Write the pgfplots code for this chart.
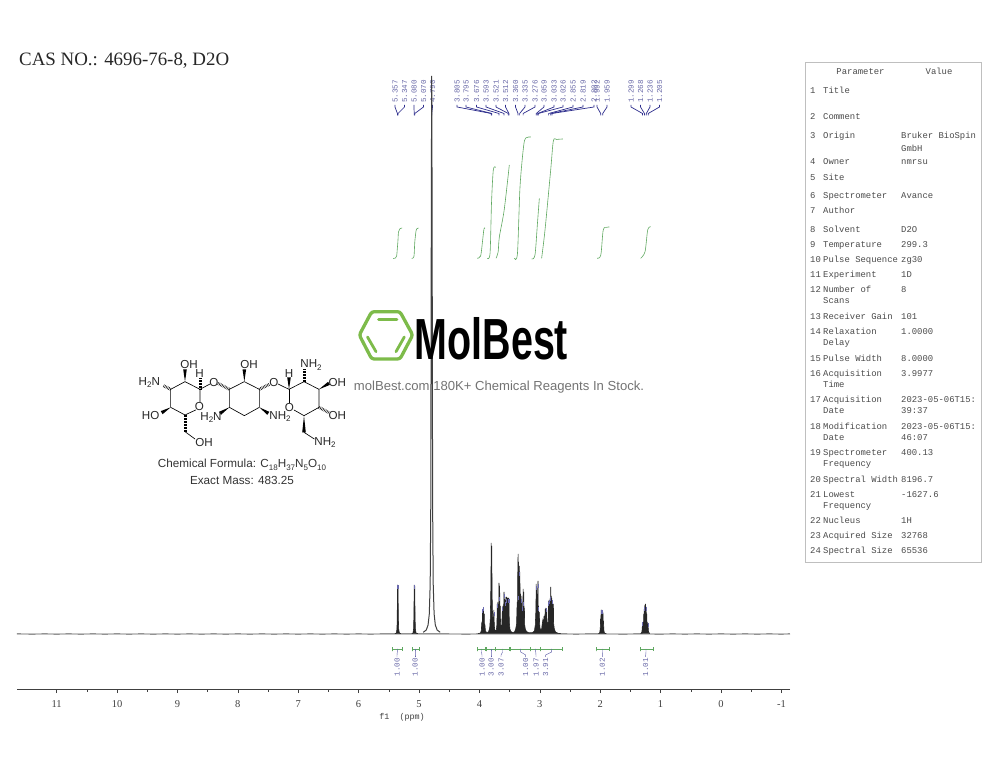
\documentclass[border=0pt]{standalone}
\usepackage{pgfplots}
\usepackage{fontspec}
\pgfplotsset{compat=1.18}
\usetikzlibrary{calc}
\setmainfont{Liberation Serif}
\newfontfamily\monof{Liberation Mono}
\newfontfamily\sansf{Liberation Sans}
\definecolor{lbl}{HTML}{6A6AA8}
\definecolor{lead}{HTML}{2C2C8C}
\definecolor{intg}{HTML}{5FA860}
\definecolor{txt}{HTML}{4A4A4A}
\definecolor{logog}{HTML}{7DBB4A}
\newcommand\tr[4]{%
  \node[anchor=base west,inner sep=0,text=txt,font=\monof\fontsize{8.9}{9}\selectfont] at (810,{770-#1}) {#2};
  \node[anchor=base west,inner sep=0,text=txt,font=\monof\fontsize{8.9}{9}\selectfont] at (823,{770-#1}) {#3};
  \node[anchor=base west,inner sep=0,text=txt,font=\monof\fontsize{8.9}{9}\selectfont] at (901,{770-#1}) {#4};}
\newcommand\sub[1]{\raisebox{-2.5pt}{\fontsize{8}{8}\selectfont #1}}
\newcommand\wdg[2]{\fill[black] (#1) -- ($(#2)!1.8pt!90:(#1)$) -- ($(#2)!1.8pt!-90:(#1)$) -- cycle;}
\newcommand\hsh[2]{\draw[line width=3pt,line cap=butt,dash pattern=on 0.5pt off 1pt] (#1)--(#2);}
\begin{document}
\begin{tikzpicture}[x=1pt,y=1pt]
\path[use as bounding box] (0,0) rectangle (1000,773);
% title
\node[anchor=west,inner sep=0,font=\fontsize{18.9}{20}\selectfont,text=black!85] at (19,712.5) {CAS NO.: 4696-76-8, D2O};
% peak labels and leaders
\foreach \a/\b/\t in {395/397.4/5.357,404.5/398/5.347,414/414.2/5.080,423.5/414.8/5.070,432.5/431.7/4.790,
 457/491.2/3.805,466/491.8/3.795,476.5/499/3.676,486/504/3.593,496/508.3/3.521,505.5/508.9/3.512,
 515.5/518/3.360,525/519.6/3.335,535/523.1/3.276,544/536.2/3.059,554/537.8/3.033,563/538.2/3.026,
 573/548.6/2.855,583/550.7/2.819,594/551.9/2.802,597/600.7/1.992,607/602.7/1.959,
 631/642.5/1.299,640.5/644.4/1.268,650/646.3/1.236,659.5/648.2/1.205}{
  \node[rotate=90,anchor=west,inner sep=0,text=lbl,font=\monof\fontsize{7.6}{8}\selectfont] at (\a,670) {\t};
  \draw[lead,line width=0.7pt] (\a,668)--(\a,666)--(\b,659.5)--(\b,657.5);
}
\begin{axis}[at={(17pt,84pt)},anchor=south west,scale only axis,width=773pt,height=613pt,
  x dir=reverse,xmin=-1.142,xmax=11.656,ymin=-55,ymax=558,clip=false,
  axis y line=none,axis x line*=bottom,axis line style={-,black!75,line width=0.7pt},
  xtick={-1,0,1,2,3,4,5,6,7,8,9,10,11},
  xticklabels={-1,0,1,2,3,4,5,6,7,8,9,10,11},
  minor x tick num=1,tick align=outside,major tick length=4pt,minor tick length=2.5pt,
  x tick style={black!75,line width=0.6pt},
  xticklabel style={font=\fontsize{10.5}{11}\selectfont,text=black!75,inner sep=0pt,yshift=-7pt},
  xlabel={f1\ \ (ppm)},xlabel style={font=\monof\fontsize{8.4}{9}\selectfont,text=black!75,at={(axis cs:5.28,-55)},anchor=north,yshift=-21pt}]
% baseline
\addplot[black!65,line width=0.9pt] coordinates {(11.656,0.1)(11.4,-0.1)(11.2,0.1)(11,-0.1)(10.8,0.1)(10.6,-0.1)(10.4,0.1)(10.2,-0.1)(10,0.1)(9.8,-0.1)(9.6,0.1)(9.4,-0.1)(9.2,0.1)(9,-0.1)(8.8,0.1)(8.6,-0.1)(8.4,0.1)(8.2,-0.1)(8,0.1)(7.8,-0.1)(7.6,0.1)(7.4,-0.1)(7.2,0.1)(7,-0.1)(6.8,0.1)(6.6,-0.1)(6.4,0.1)(6.2,-0.1)(6,0.1)(5.8,-0.1)(5.6,0.1)(5.4,0.1)(5,0.1)(4.6,0.1)(4.2,-0.1)(4,0.1)(2.6,0.1)(2.4,-0.1)(2.2,0.1)(2,0.1)(1.8,0)(1.6,-0.1)(1.4,0.1)(1.2,0)(1,-0.1)(0.8,0.1)(0.6,-0.1)(0.4,0.1)(0.2,-0.1)(0,0.1)(-0.2,-0.1)(-0.4,0.1)(-0.6,-0.1)(-0.8,0.1)(-1,-0.1)(-1.142,0.1)};
% spectrum
\addplot[draw=black!85,fill=black!85,line width=0.6pt] coordinates {(5.40,.3)(5.375,1)(5.365,5)(5.36,20)(5.357,49)(5.352,30)(5.347,48)(5.343,18)(5.337,5)(5.325,1)(5.30,.3)};
\addplot[draw=black!85,fill=black!85,line width=0.6pt] coordinates {(5.12,.3)(5.10,1)(5.09,5)(5.084,20)(5.080,49)(5.075,30)(5.070,48)(5.066,18)(5.06,5)(5.05,1)(5.02,.3)};
\addplot[draw=black!75,line width=1pt] coordinates {(4.93,1.7)(4.88,4)(4.85,9)(4.83,20)(4.815,50)(4.805,131)(4.80,308)(4.795,465)(4.79,558)(4.785,465)(4.78,308)(4.775,131)(4.765,50)(4.75,20)(4.73,9)(4.70,4)(4.65,1.7)};
\addplot[draw=black!85,fill=black!85,line width=0.55pt] coordinates {(4.02,.3)(3.985,1)(3.97,3)(3.96,12)(3.955,5)(3.95,22)(3.945,8)(3.94,25)(3.935,9)(3.93,25)(3.925,8)(3.92,20)(3.915,6)(3.91,10)(3.90,3)(3.88,1.5)(3.85,2)(3.83,6)(3.82,15)(3.81,50)(3.805,91)(3.80,55)(3.795,88)(3.79,40)(3.78,12)(3.775,17)(3.77,10)(3.76,24)(3.755,12)(3.75,6)(3.74,3)(3.72,4)(3.71,10)(3.705,30)(3.70,12)(3.695,32)(3.69,15)(3.685,30)(3.68,18)(3.676,51)(3.67,20)(3.665,48)(3.66,20)(3.655,28)(3.65,10)(3.64,7)(3.63,9)(3.62,24)(3.615,10)(3.61,28)(3.605,12)(3.60,30)(3.595,18)(3.593,42)(3.588,15)(3.583,35)(3.578,14)(3.57,34)(3.565,14)(3.56,37)(3.553,15)(3.548,37)(3.543,14)(3.535,36)(3.53,16)(3.521,36)(3.516,16)(3.512,36)(3.505,12)(3.495,5)(3.48,2.5)(3.45,1.5)(3.42,2)(3.40,5)(3.385,10)(3.375,32)(3.37,18)(3.365,62)(3.36,80)(3.355,30)(3.35,72)(3.345,28)(3.34,68)(3.335,30)(3.33,62)(3.325,22)(3.32,40)(3.315,18)(3.31,38)(3.305,16)(3.30,34)(3.295,14)(3.29,25)(3.285,14)(3.28,32)(3.276,45)(3.27,16)(3.265,42)(3.26,16)(3.255,26)(3.25,9)(3.24,5)(3.22,2.5)(3.18,1.2)(3.12,1.5)(3.09,3)(3.075,9)(3.065,24)(3.06,50)(3.055,22)(3.05,46)(3.045,20)(3.04,40)(3.035,20)(3.03,53)(3.025,18)(3.02,28)(3.015,12)(3.01,22)(3.0,7)(2.985,3.5)(2.97,5)(2.96,10)(2.95,14)(2.94,10)(2.93,18)(2.92,12)(2.91,25)(2.905,15)(2.90,26)(2.89,16)(2.885,24)(2.88,12)(2.87,10)(2.86,12)(2.855,33)(2.85,14)(2.845,34)(2.84,14)(2.83,36)(2.825,16)(2.819,47)(2.814,16)(2.81,38)(2.805,16)(2.80,36)(2.795,14)(2.79,33)(2.785,12)(2.775,30)(2.77,10)(2.76,5)(2.74,2)(2.70,.8)(2.65,.3)};
\addplot[draw=black!85,fill=black!85,line width=0.55pt] coordinates {(2.03,.3)(2.01,1)(2.0,5)(1.995,15)(1.99,10)(1.985,24)(1.98,12)(1.975,24)(1.97,14)(1.965,23)(1.96,12)(1.955,22)(1.95,10)(1.945,13)(1.94,4)(1.93,1)(1.90,.3)};
\addplot[draw=black!85,fill=black!85,line width=0.55pt] coordinates {(1.33,.3)(1.31,2)(1.30,10)(1.295,5)(1.29,12)(1.285,7)(1.28,20)(1.275,10)(1.27,27)(1.265,14)(1.26,29)(1.255,14)(1.25,30)(1.245,14)(1.24,27)(1.235,12)(1.23,20)(1.225,8)(1.22,12)(1.215,6)(1.21,10)(1.20,2)(1.18,.4)};
% peak pick marks
\addplot[only marks,mark=|,mark size=2pt,color=lead!70,mark options={line width=0.6pt}] coordinates {(5.357,47)(5.347,47)(5.080,47)(5.070,47)(3.95,23)(3.93,25)(3.76,20)(3.70,28)(3.676,35)(3.62,25)(3.593,38)(3.57,30)(3.548,33)(3.521,33)(3.512,33)(3.36,36)(3.335,60)(3.31,33)(3.29,25)(3.276,30)(3.059,46)(3.033,48)(3.026,25)(2.90,24)(2.855,30)(2.845,32)(2.819,35)(2.80,32)(1.985,22)(1.96,22)(1.299,10)(1.268,25)(1.236,25)(1.205,9)};
% integrals
\addplot[intg,line width=0.6pt,smooth] coordinates {(5.43,375.5)(5.39,376)(5.37,378)(5.36,385)(5.35,392)(5.34,402)(5.32,405)(5.28,406)};
\addplot[intg,line width=0.6pt,smooth] coordinates {(5.12,375.5)(5.09,376.5)(5.08,380)(5.07,392)(5.05,403)(5.04,405)(5.01,406)};
\addplot[intg,line width=0.6pt,smooth] coordinates {(4.035,375.7)(3.98,378)(3.95,392)(3.925,405)(3.907,405.7)};
\addplot[intg,line width=0.6pt,smooth] coordinates {(3.87,375.7)(3.824,380.7)(3.80,430.7)(3.77,464)(3.73,466.7)};
\addplot[intg,line width=0.6pt,smooth] coordinates {(3.725,375.7)(3.69,382)(3.67,397)(3.59,424)(3.505,469)};
\addplot[intg,line width=0.6pt,smooth] coordinates {(3.42,375.7)(3.37,380.7)(3.328,447)(3.27,487)(3.233,496)(3.15,497)};
\addplot[intg,line width=0.6pt,smooth] coordinates {(3.134,375)(3.08,379)(3.04,410)(3.008,435.7)};
\addplot[intg,line width=0.6pt,smooth] coordinates {(2.97,375.7)(2.914,404)(2.82,464)(2.776,493)(2.72,494.5)(2.62,495)};
\addplot[intg,line width=0.6pt,smooth] coordinates {(2.05,375.7)(1.99,379)(1.95,404)(1.89,406.7)(1.85,407)};
\addplot[intg,line width=0.6pt,smooth] coordinates {(1.33,375.7)(1.258,382.3)(1.214,404)(1.164,407.3)};
% integral bars
\addplot[intg,line width=0.7pt] coordinates {(5.44,-13)(5.44,-17)(5.44,-15)(5.28,-15)(5.28,-13)(5.28,-17)};
\addplot[intg,line width=0.7pt] coordinates {(5.116,-13)(5.116,-17)(5.116,-15)(4.995,-15)(4.995,-13)(4.995,-17)};
\addplot[intg,line width=0.7pt] coordinates {(4.03,-13)(4.03,-17)(4.03,-15)(3.90,-15)(3.90,-13)(3.90,-17)};
\addplot[intg,line width=0.7pt] coordinates {(3.89,-13)(3.89,-17)(3.89,-15)(3.73,-15)(3.73,-13)(3.73,-17)};
\addplot[intg,line width=0.7pt] coordinates {(3.73,-13)(3.73,-17)(3.73,-15)(3.505,-15)(3.505,-13)(3.505,-17)};
\addplot[intg,line width=0.7pt] coordinates {(3.48,-13)(3.48,-17)(3.48,-15)(3.15,-15)(3.15,-13)(3.15,-17)};
\addplot[intg,line width=0.7pt] coordinates {(3.15,-13)(3.15,-17)(3.15,-15)(2.985,-15)(2.985,-13)(2.985,-17)};
\addplot[intg,line width=0.7pt] coordinates {(2.985,-13)(2.985,-17)(2.985,-15)(2.62,-15)(2.62,-13)(2.62,-17)};
\addplot[intg,line width=0.7pt] coordinates {(2.07,-13)(2.07,-17)(2.07,-15)(1.85,-15)(1.85,-13)(1.85,-17)};
\addplot[intg,line width=0.7pt] coordinates {(1.34,-13)(1.34,-17)(1.34,-15)(1.12,-15)(1.12,-13)(1.12,-17)};
\end{axis}
% integral labels
\foreach \c/\a/\t in {397.3/397/1.00,415/415/1.00,481.5/482/1.00,491/491/3.00,502.5/501/3.07,520.7/525.7/1.00,535.7/536/1.97,551.7/545.7/3.91,602.5/602.3/1.02,646/645.7/1.01}{
  \draw[lead!75,line width=0.45pt] (\c,124)--(\c,121)--(\a,118)--(\a,116);
  \node[rotate=90,anchor=east,inner sep=0,text=lbl,font=\monof\fontsize{7.6}{8}\selectfont] at (\a,115) {\t};
}
% molecule
\begin{scope}[x=0.33333pt,y=-0.33333pt,shift={(130pt,473pt)},line width=0.65pt,line cap=round,line join=round]
\draw (122,268)--(165,245)--(210,268)--(210,306);
\draw (197,330)--(165,345)--(122,322)--(122,268);
\draw (210,268)--(240,252);
\hsh{122,268}{98,256}
\wdg{165,245}{165,208}
\hsh{210,268}{210,234}
\wdg{122,322}{95,338}
\hsh{165,345}{165,395}
\draw (165,395)--(195,417);
\hsh{264,250}{298,268}
\draw (298,268)--(343,245)--(388,268)--(388,322)--(343,347)--(298,322)--cycle;
\wdg{343,245}{343,208}
\wdg{298,322}{270,340}
\wdg{388,322}{415,340}
\hsh{388,268}{420,252}
\draw (444,252)--(477,268)--(522,245)--(567,268)--(567,322)--(522,347)--(492,330);
\draw (477,268)--(477,308);
\wdg{477,268}{477,232}
\hsh{522,245}{522,208}
\wdg{567,268}{597,250}
\hsh{567,322}{597,338}
\wdg{522,347}{522,397}
\draw (522,397)--(553,417);
\begin{scope}[every node/.style={inner sep=0,font=\sansf\fontsize{11.6}{12}\selectfont,text=black!85}]
\node at (58,248) {H\sub{2}N};
\node at (177,195) {OH};
\node at (209,220) {H};
\node at (208,319) {O};
\node at (252,247) {O};
\node at (62,348) {HO};
\node at (222,428) {OH};
\node at (357,195) {OH};
\node at (243,352) {H\sub{2}N};
\node at (450,350) {NH\sub{2}};
\node at (432,247) {O};
\node at (477,220) {H};
\node at (478,323) {O};
\node at (543,195) {NH\sub{2}};
\node at (622,247) {OH};
\node at (622,348) {OH};
\node at (585,428) {NH\sub{2}};
\end{scope}
\end{scope}
\node[inner sep=0,font=\sansf\fontsize{11.7}{12}\selectfont,text=black!80] at (242,308) {Chemical Formula: C\sub{18}H\sub{37}N\sub{5}O\sub{10}};
\node[inner sep=0,font=\sansf\fontsize{11.7}{12}\selectfont,text=black!80] at (242,293) {Exact Mass: 483.25};
% logo
\draw[logog,line width=3.3pt,line join=round,rounded corners=2.5pt] (359.3,438)--(371.7,461.3)--(400,461.3)--(412.7,438)--(400,414)--(371.7,414)--cycle;
\draw[logog,line width=2.8pt,line cap=round] (378.5,453.5)--(397,453.5) (367.5,436)--(376,421.3) (404.3,436)--(396,421.3);
\node[anchor=base west,inner sep=0,font=\sansf\bfseries\fontsize{58}{60}\selectfont] at (414.5,413) {\scalebox{0.68}[1]{MolBest}};
\node[inner sep=0,font=\sansf\fontsize{13.1}{14}\selectfont,text=black!55] at (499,385.5) {molBest.com 180K+ Chemical Reagents In Stock.};
% table
\draw[black!25,line width=0.7pt] (805.5,711) rectangle (981.5,211);
\node[anchor=base,inner sep=0,text=txt,font=\monof\fontsize{8.9}{9}\selectfont] at (860.5,698) {Parameter};
\node[anchor=base,inner sep=0,text=txt,font=\monof\fontsize{8.9}{9}\selectfont] at (939,698) {Value};
\tr{91}{1}{Title}{}
\tr{117}{2}{Comment}{}
\tr{136}{3}{Origin}{Bruker BioSpin}
\tr{149}{}{}{GmbH}
\tr{162}{4}{Owner}{nmrsu}
\tr{178}{5}{Site}{}
\tr{196}{6}{Spectrometer}{Avance}
\tr{211}{7}{Author}{}
\tr{230}{8}{Solvent}{D2O}
\tr{245}{9}{Temperature}{299.3}
\tr{260}{10}{Pulse Sequence}{zg30}
\tr{275}{11}{Experiment}{1D}
\tr{290}{12}{Number of}{8}
\tr{301}{}{Scans}{}
\tr{317}{13}{Receiver Gain}{101}
\tr{332}{14}{Relaxation}{1.0000}
\tr{343}{}{Delay}{}
\tr{359}{15}{Pulse Width}{8.0000}
\tr{374}{16}{Acquisition}{3.9977}
\tr{385}{}{Time}{}
\tr{400}{17}{Acquisition}{2023-05-06T15:}
\tr{411}{}{Date}{39:37}
\tr{427}{18}{Modification}{2023-05-06T15:}
\tr{438}{}{Date}{46:07}
\tr{453}{19}{Spectrometer}{400.13}
\tr{464}{}{Frequency}{}
\tr{480}{20}{Spectral Width}{8196.7}
\tr{495}{21}{Lowest}{-1627.6}
\tr{506}{}{Frequency}{}
\tr{521}{22}{Nucleus}{1H}
\tr{536}{23}{Acquired Size}{32768}
\tr{551}{24}{Spectral Size}{65536}
\end{tikzpicture}
\end{document}
